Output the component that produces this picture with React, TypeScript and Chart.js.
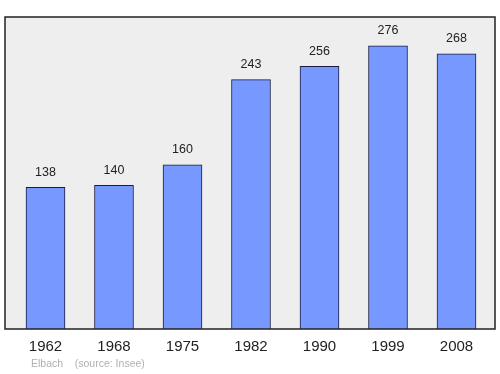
import React, { useEffect, useRef } from "react";
import { Chart, registerables } from "chart.js";

Chart.register(...registerables);

const years = ["1962", "1968", "1975", "1982", "1990", "1999", "2008"];
const population = [138, 140, 160, 243, 256, 276, 268];
const sourceText = "Elbach    (source: Insee)";

export default function App() {
  const ref = useRef<HTMLCanvasElement | null>(null);
  useEffect(() => {
    document.body.style.margin = "0";
    const canvas = ref.current;
    if (!canvas) return;
    const framePlugin = {
      id: "frame",
      beforeDatasetsDraw(chart: any) {
        const { ctx, chartArea: a } = chart;
        ctx.save();
        ctx.fillStyle = "#eeeeee";
        ctx.fillRect(a.left, a.top, a.right - a.left, a.bottom - a.top);
        ctx.restore();
      },
      afterDatasetsDraw(chart: any) {
        const { ctx, chartArea: a } = chart;
        ctx.save();
        const meta = chart.getDatasetMeta(0);
        ctx.fillStyle = "#222222";
        ctx.font = "12.5px 'Liberation Sans', Arial, sans-serif";
        ctx.textAlign = "center";
        ctx.textBaseline = "middle";
        meta.data.forEach((el: any, i: number) => {
          ctx.fillText(String(population[i]), el.x, el.y - 15);
        });
        ctx.strokeStyle = "#222222";
        ctx.lineWidth = 1.5;
        ctx.strokeRect(a.left, a.top, a.right - a.left, a.bottom - a.top);
        ctx.fillStyle = "#b0b0b0";
        ctx.font = "10.5px 'Liberation Sans', Arial, sans-serif";
        ctx.textAlign = "left";
        ctx.fillText(sourceText, 31, 364.5);
        ctx.restore();
      },
    };
    const chart = new Chart(canvas, {
      type: "bar",
      data: {
        datasets: [
          {
            data: population.map((v, i) => ({ x: i, y: v })),
            backgroundColor: "#7799ff",
            borderColor: "#1a1a40",
            borderWidth: 1,
            barThickness: 39,
          },
        ],
      },
      options: {
        responsive: false,
        animation: false,
        layout: { padding: { left: 5, right: 5, top: 17, bottom: 18 } },
        plugins: { legend: { display: false }, tooltip: { enabled: false } },
        scales: {
          x: {
            type: "linear",
            offset: false,
            min: -0.591,
            max: 6.562,
            grid: { display: false, drawTicks: false, offset: false },
            border: { display: false },
            afterBuildTicks(scale: any) {
              scale.ticks = years.map((_, i) => ({ value: i }));
            },
            afterFit(scale: any) {
              scale.height = 27;
            },
            ticks: {
              padding: 9,
              maxRotation: 0,
              autoSkip: false,
              color: "#222222",
              font: { size: 15, family: "'Liberation Sans', Arial, sans-serif" },
              callback: (v: any) => years[v] ?? "",
            },
          },
          y: {
            display: false,
            min: 0,
            max: 304,
          },
        },
      },
      plugins: [framePlugin],
    } as any);
    return () => chart.destroy();
  }, []);
  return <canvas ref={ref} width={500} height={374} style={{ display: "block" }} />;
}
